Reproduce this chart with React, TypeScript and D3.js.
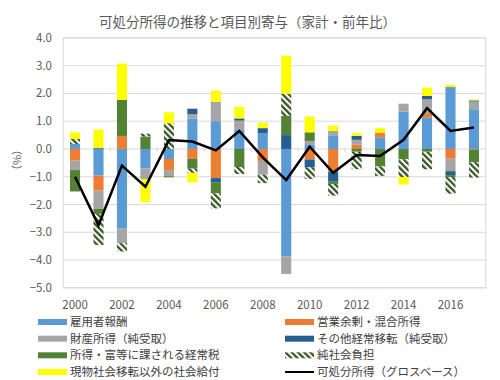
import React from "react";
import * as d3 from "d3";

const years = [2000, 2001, 2002, 2003, 2004, 2005, 2006, 2007, 2008, 2009, 2010, 2011, 2012, 2013, 2014, 2015, 2016, 2017];
const employee = [0.18, -0.96, -2.87, -0.7, -0.36, 1.1, 1.0, 0.68, 0.57, -3.87, 0.17, 0.47, 0, 0.42, 1.35, 1.14, 2.23, 1.43];
const operating = [-0.42, -0.54, 0.47, 0, -0.4, -0.35, -1.05, 0, -0.43, 0, -0.38, -0.82, 0.15, 0.17, 0, 0.15, -0.35, -0.03];
const property = [-0.34, -0.66, -0.52, -0.39, -0.22, 0.15, 0.7, 0.34, -0.5, -0.63, 0.12, 0.18, 0.18, 0, 0.28, 0.5, -0.45, 0.28];
const otherTransfer = [0, 0.03, 0, 0, 0, 0.2, -0.15, 0.08, 0.18, 0.5, -0.28, -0.36, 0.14, 0, 0, 0.12, -0.14, 0.04];
const incomeTax = [-0.77, -0.18, 1.3, 0.45, -0.04, -0.36, -0.4, -0.65, 0, 0.69, 0.31, -0.08, -0.1, -0.63, -0.37, -0.1, -0.07, -0.45];
const socialContrib = [0.18, -1.12, -0.3, 0.1, 0.93, -0.15, -0.54, -0.25, -0.3, 0.8, -0.42, -0.42, -0.63, -0.34, -0.64, -0.63, -0.6, -0.55];
const socialBenefits = [0.24, 0.67, 1.3, -0.82, 0.39, -0.34, 0.4, 0.42, 0.2, 1.37, 0.57, 0.19, 0.1, 0.16, -0.27, 0.3, 0.08, 0.03];
const disposable = [-1.0, -2.75, -0.6, -1.36, 0.32, 0.27, -0.05, 0.65, -0.3, -1.12, 0.08, -0.86, -0.22, -0.25, 0.33, 1.47, 0.65, 0.77];

const yTicks = [4, 3, 2, 1, 0, -1, -2, -3, -4, -5];
const xLabelYears = [2000, 2002, 2004, 2006, 2008, 2010, 2012, 2014, 2016];

const seriesNames = [
  "雇用者報酬",
  "営業余剰・混合所得",
  "財産所得（純受取）",
  "その他経常移転（純受取）",
  "所得・富等に課される経常税",
  "純社会負担",
  "現物社会移転以外の社会給付",
];
const lineName = "可処分所得（グロスベース）";
const title = "可処分所得の推移と項目別寄与（家計・前年比）";

const seriesValues = [employee, operating, property, otherTransfer, incomeTax, socialContrib, socialBenefits];
const seriesFills = ["#5B9BD5", "#ED7D31", "#A5A5A5", "#255E91", "#548235", "url(#hatch)", "#FFFF00"];

const FONT = "'Noto Sans CJK JP', 'Noto Sans', sans-serif";

export default function App() {
  const W = 500, H = 380;
  const left = 63.3, right = 485.7, top = 37.9, bottom = 287.8;

  const x = d3.scaleBand<number>().domain(years).range([left, right]).padding(0);
  const y = d3.scaleLinear().domain([-5, 4]).range([bottom, top]);
  const barW = x.bandwidth() * 0.43;

  const keys = seriesNames.map((_, i) => "s" + i);
  const table = years.map((yr, j) => {
    const row: any = { year: yr };
    keys.forEach((k, i) => (row[k] = seriesValues[i][j]));
    return row;
  });
  const stacked = d3.stack<any>().keys(keys).offset(d3.stackOffsetDiverging)(table);

  const line = d3
    .line<number>()
    .x((_, i) => (x(years[i]) as number) + x.bandwidth() / 2)
    .y((d) => y(d));

  const legendRows = [322, 338.7, 355.3, 372];
  const legendItems = [...seriesNames.map((n, i) => ({ name: n, fill: seriesFills[i], line: false })), { name: lineName, fill: "#000", line: true }];

  return (
    <svg width={W} height={H} style={{ position: "absolute", left: 0, top: 0, display: "block", background: "#fff" }}>
      <defs>
        <pattern id="hatch" patternUnits="userSpaceOnUse" width="4.4" height="4.4" patternTransform="rotate(-45)">
          <rect width="4.4" height="4.4" fill="#fff" />
          <rect width="2.3" height="4.4" fill="#375623" />
        </pattern>
      </defs>
      <rect width={W} height={H} fill="#fff" />
      <text x={247.5} y={26.5} textAnchor="middle" fontFamily={FONT} fontSize={13.5} fill="#595959">
        {title}
      </text>
      {yTicks.map((t) => (
        <line key={t} x1={left} x2={right} y1={y(t)} y2={y(t)} stroke="#D9D9D9" strokeWidth={1} />
      ))}
      <rect x={left} y={top} width={right - left} height={bottom - top} fill="none" stroke="#D9D9D9" strokeWidth={1} />
      {yTicks.map((t) => (
        <text key={t} x={52} y={y(t) + 4} textAnchor="end" fontFamily={FONT} fontSize={11.5} fill="#595959">
          {d3.format(".1f")(t)}
        </text>
      ))}
      <text transform={`translate(21,160) rotate(-90)`} textAnchor="middle" fontFamily={FONT} fontSize={11} fill="#595959">
        （%）
      </text>
      {stacked.map((s, i) =>
        s.map((d, j) => {
          const y0 = y(d[0]), y1 = y(d[1]);
          const h = Math.abs(y0 - y1);
          if (h < 0.01) return null;
          return (
            <rect
              key={i + "-" + j}
              x={(x(years[j]) as number) + (x.bandwidth() - barW) / 2}
              y={Math.min(y0, y1)}
              width={barW}
              height={h}
              fill={seriesFills[i]}
            />
          );
        })
      )}
      {years.map((yr, j) =>
        j % 2 === 0 && j > 0 ? (
          <line key={yr} x1={x(yr) as number} x2={x(yr) as number} y1={y(0) - 2} y2={y(0) + 3} stroke="#D9D9D9" />
        ) : null
      )}
      <path d={line(disposable) || ""} fill="none" stroke="#000" strokeWidth={2.5} strokeLinejoin="miter" />
      {xLabelYears.map((yr) => (
        <text key={yr} x={(x(yr) as number) + x.bandwidth() / 2} y={309} textAnchor="middle" fontFamily={FONT} fontSize={11.5} fill="#595959">
          {yr}
        </text>
      ))}
      {legendItems.map((it, i) => {
        const col = i % 2;
        const row = Math.floor(i / 2);
        const sx = col === 0 ? 38 : 285;
        const cy = legendRows[row];
        return (
          <g key={it.name}>
            {it.line ? (
              <line x1={sx} x2={sx + 29} y1={cy} y2={cy} stroke="#000" strokeWidth={2} />
            ) : (
              <rect x={sx} y={cy - 3} width={29} height={6} fill={it.fill} />
            )}
            <text x={sx + 32} y={cy + 4} fontFamily={FONT} fontSize={11.5} fill="#404040">
              {it.name}
            </text>
          </g>
        );
      })}
    </svg>
  );
}
